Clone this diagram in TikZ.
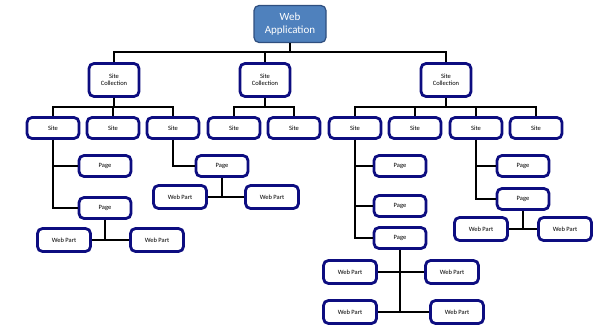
\documentclass[tikz,border=0pt]{standalone}
\usepackage{fontspec}
\setmainfont{Carlito}
\usetikzlibrary{positioning}
\definecolor{navyline}{HTML}{0D0D80}
\definecolor{appfill}{HTML}{4F81BD}
\definecolor{appline}{HTML}{2F4F7F}

\begin{document}
\begin{tikzpicture}[x=1pt,y=-1pt,
		box/.style = {draw=navyline,line width=2.8pt,rounded corners=5pt,fill=white,
			align=center,inner sep=0pt,font=\fontsize{6.5}{7.5}\selectfont},
		sitebox/.style = {box,minimum width=52pt,minimum height=21pt},
		collbox/.style = {box,minimum width=50pt,minimum height=33pt},
		wpbox/.style = {box,minimum width=53pt,minimum height=23pt},
		topbox/.style = {draw=appline,line width=1.2pt,rounded corners=5pt,
			fill=appfill,text=white,align=center,minimum width=72pt,
			minimum height=37pt,inner sep=0pt,font=\fontsize{11}{13}\selectfont},
		link/.style = {line width=2.2pt}]
		\useasboundingbox (0,0) rectangle (603,329);
		% top
		\node [topbox] (web) at (290,24) {Web\\Application};
		\node [collbox] (coll1) at (114,80) {Site\\Collection};
		\node [collbox] (coll2) at (265,80) {Site\\Collection};
		\node [collbox] (coll3) at (446,80) {Site\\Collection};
		% sites
		\node [sitebox] (siteA) at (53,128) {Site};
		\node [sitebox] (siteB) at (113,128) {Site};
		\node [sitebox] (siteC) at (173,128) {Site};
		\node [sitebox] (siteD) at (234,128) {Site};
		\node [sitebox] (siteE) at (294,128) {Site};
		\node [sitebox] (siteF) at (355,128) {Site};
		\node [sitebox] (siteG) at (415,128) {Site};
		\node [sitebox] (siteH) at (476,128) {Site};
		\node [sitebox] (siteI) at (536,128) {Site};
		% pages
		\node [sitebox] (pageA1) at (105,166) {Page};
		\node [sitebox] (pageA2) at (105,208) {Page};
		\node [sitebox] (pageC1) at (222,166) {Page};
		\node [sitebox] (pageF1) at (400,166) {Page};
		\node [sitebox] (pageF2) at (400,206) {Page};
		\node [sitebox] (pageF3) at (400,238) {Page};
		\node [sitebox] (pageH1) at (523,166) {Page};
		\node [sitebox] (pageH2) at (523,199) {Page};
		% web parts
		\node [wpbox] (partA1) at (64,240) {Web Part};
		\node [wpbox] (partA2) at (157,240) {Web Part};
		\node [wpbox] (partC1) at (180,197) {Web Part};
		\node [wpbox] (partC2) at (272,197) {Web Part};
		\node [wpbox] (partF1) at (350,272) {Web Part};
		\node [wpbox] (partF2) at (452,272) {Web Part};
		\node [wpbox] (partF3) at (350,312) {Web Part};
		\node [wpbox] (partF4) at (457,312) {Web Part};
		\node [wpbox] (partH1) at (481,229) {Web Part};
		\node [wpbox] (partH2) at (565,229) {Web Part};
		% connectors
		\foreach \c in {coll1,coll2,coll3}
			\draw [link] (web.south) -- ++(0,9) -| (\c.north);
		\foreach \s in {siteA,siteB,siteC}
			\draw [link] (coll1.south) -- ++(0,9) -| (\s.north);
		\foreach \s in {siteD,siteE}
			\draw [link] (coll2.south) -- ++(0,9) -| (\s.north);
		\foreach \s in {siteF,siteG,siteH,siteI}
			\draw [link] (coll3.south) -- ++(0,9) -| (\s.north);
		\foreach \p in {pageA1,pageA2}
			\draw [link] (siteA.south) |- (\p.west);
		\draw [link] (siteC.south) |- (pageC1.west);
		\foreach \p in {pageF1,pageF2,pageF3}
			\draw [link] (siteF.south) |- (\p.west);
		\foreach \p in {pageH1,pageH2}
			\draw [link] (siteH.south) |- (\p.west);
		\draw [link] (pageA2.south) |- (partA1.east);
		\draw [link] (pageA2.south) |- (partA2.west);
		\draw [link] (pageC1.south) |- (partC1.east);
		\draw [link] (pageC1.south) |- (partC2.west);
		\draw [link] (pageF3.south) |- (partF1.east);
		\draw [link] (pageF3.south) |- (partF2.west);
		\draw [link] (pageF3.south) |- (partF3.east);
		\draw [link] (pageF3.south) |- (partF4.west);
		\draw [link] (pageH2.south) |- (partH1.east);
		\draw [link] (pageH2.south) |- (partH2.west);
	\end{tikzpicture}
\end{document}
